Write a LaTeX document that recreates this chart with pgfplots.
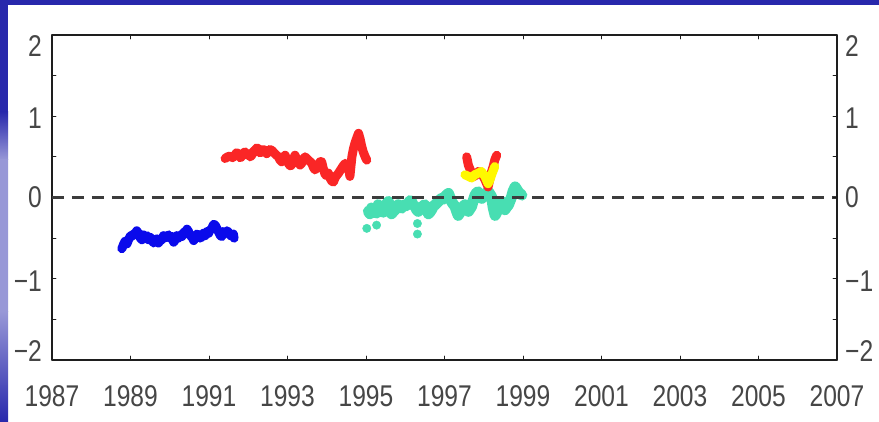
\documentclass[border=0pt]{standalone}
\usepackage{fontspec}
\usepackage{pgfplots}
\pgfplotsset{compat=1.18}
\setmainfont{Liberation Sans}
\newfontfamily\tickfont[FakeStretch=0.82]{Liberation Sans}
\definecolor{barblue}{RGB}{40,40,172}
\definecolor{stripmid}{RGB}{152,152,215}
\definecolor{stripmid2}{RGB}{128,128,205}
\definecolor{serblue}{RGB}{10,10,235}
\definecolor{serred}{RGB}{250,38,38}
\definecolor{serteal}{RGB}{72,222,178}
\definecolor{seryellow}{RGB}{255,248,0}
\definecolor{labgray}{RGB}{70,70,70}
\definecolor{axgray}{RGB}{30,30,30}
\definecolor{dashgray}{RGB}{60,60,60}
\newcommand\yl[2]{\raisebox{#1}[\height][\depth]{#2}}
\newcommand\ylabs{\ifcase\ticknum \yl{9pt}{−2}\or \yl{-2pt}{−1}\or \yl{0pt}{0}\or \yl{-2pt}{1}\or \yl{-11.5pt}{2}\fi}
\begin{document}
\begin{tikzpicture}
\useasboundingbox (0pt,0pt) rectangle (879pt,422pt);
\fill[white] (0pt,0pt) rectangle (879pt,422pt);
\fill[barblue] (0pt,310pt) rectangle (8pt,422pt);
\shade[top color=barblue, bottom color=stripmid] (0pt,262pt) rectangle (8pt,310.5pt);
\shade[top color=stripmid, middle color=stripmid2, bottom color=stripmid] (0pt,110pt) rectangle (8pt,262.5pt);
\shade[top color=stripmid, bottom color=barblue] (0pt,0pt) rectangle (8pt,110.5pt);
\fill[barblue] (0pt,417pt) rectangle (879pt,422pt);
\pgfplotsset{
  base/.style={
    at={(52pt,62pt)}, anchor=south west, scale only axis,
    width=785pt, height=325pt,
    xmin=1987, xmax=2007, ymin=-2, ymax=2,
    ytick={-2,-1,0,1,2}, minor y tick num=1,
    tick align=inside, major tick length=4pt, minor tick length=4pt,
    every tick/.style={axgray, line width=0.9pt},
    axis line style={axgray, line width=1.2pt},
    tick label style={font=\tickfont\fontsize{30}{30}\selectfont, text=labgray, inner sep=0pt},
    yticklabel={\ylabs},
  }
}
\begin{axis}[base,
  xtick={1987,1989,...,2007}, minor x tick num=1,
  xticklabels={1987,1989,1991,1993,1995,1997,1999,2001,2003,2005,2007},
  xtick pos=both, ytick pos=both,
  xticklabel pos=bottom, yticklabel pos=left,
  xticklabel style={yshift=-25pt},
  yticklabel style={xshift=-10pt},
  line join=round, line cap=round,
]
% blue series
\addplot[serblue, line width=9pt] coordinates {
(1988.78,-0.63) (1988.82,-0.58) (1988.86,-0.54) (1988.91,-0.57) (1988.95,-0.52) (1989.00,-0.47)
(1989.03,-0.48) (1989.08,-0.45) (1989.12,-0.44) (1989.16,-0.41) (1989.20,-0.44) (1989.25,-0.50)
(1989.29,-0.52) (1989.33,-0.46) (1989.37,-0.48) (1989.42,-0.47) (1989.46,-0.52) (1989.50,-0.49)
(1989.54,-0.52) (1989.59,-0.56) (1989.63,-0.54) (1989.67,-0.51) (1989.71,-0.56) (1989.76,-0.53)
(1989.80,-0.52) (1989.84,-0.47) (1989.88,-0.50) (1989.92,-0.48) (1989.97,-0.46) (1990.01,-0.50)
(1990.05,-0.48) (1990.10,-0.55) (1990.14,-0.52) (1990.18,-0.47) (1990.22,-0.50) (1990.27,-0.46)
(1990.31,-0.48) (1990.35,-0.43) (1990.39,-0.44) (1990.44,-0.39) (1990.48,-0.42) (1990.52,-0.47)
(1990.56,-0.48) (1990.61,-0.53) (1990.65,-0.50) (1990.69,-0.45) (1990.73,-0.46) (1990.78,-0.50)
(1990.82,-0.48) (1990.86,-0.44) (1990.90,-0.47) (1990.95,-0.42) (1990.99,-0.44) (1991.03,-0.40)
(1991.07,-0.38) (1991.12,-0.33) (1991.16,-0.34) (1991.20,-0.38) (1991.24,-0.42) (1991.29,-0.47)
(1991.33,-0.48) (1991.37,-0.42) (1991.41,-0.44) (1991.46,-0.41) (1991.50,-0.43) (1991.54,-0.46)
(1991.58,-0.48) (1991.62,-0.45) (1991.64,-0.50)
};
% red series 1
\addplot[serred, line width=9pt] coordinates {
(1991.41,0.48) (1991.47,0.50) (1991.54,0.51) (1991.60,0.49) (1991.66,0.52) (1991.70,0.55)
(1991.75,0.54) (1991.79,0.49) (1991.83,0.50) (1991.88,0.55) (1991.92,0.56) (1991.96,0.53)
(1992.00,0.54) (1992.05,0.50) (1992.09,0.52) (1992.13,0.57) (1992.17,0.56) (1992.21,0.61)
(1992.26,0.60) (1992.30,0.55) (1992.34,0.56) (1992.38,0.59) (1992.43,0.58) (1992.47,0.54)
(1992.51,0.56) (1992.55,0.59) (1992.60,0.58) (1992.64,0.56) (1992.68,0.54) (1992.72,0.52)
(1992.77,0.50) (1992.81,0.46) (1992.85,0.44) (1992.90,0.49) (1992.94,0.52) (1992.98,0.46)
(1993.02,0.42) (1993.07,0.39) (1993.11,0.40) (1993.15,0.47) (1993.19,0.52) (1993.23,0.48)
(1993.28,0.44) (1993.32,0.40) (1993.36,0.42) (1993.40,0.47) (1993.45,0.50) (1993.49,0.48)
(1993.53,0.46) (1993.58,0.44) (1993.62,0.42) (1993.66,0.37) (1993.70,0.34) (1993.74,0.36)
(1993.79,0.40) (1993.83,0.44) (1993.87,0.44) (1993.91,0.36) (1993.96,0.28) (1994.00,0.27)
(1994.04,0.30) (1994.08,0.24) (1994.13,0.20) (1994.17,0.19) (1994.21,0.24) (1994.25,0.27)
(1994.30,0.30) (1994.34,0.33) (1994.38,0.36) (1994.42,0.39) (1994.47,0.42) (1994.51,0.40)
(1994.55,0.38) (1994.59,0.26) (1994.64,0.50) (1994.68,0.60) (1994.72,0.67) (1994.77,0.74)
(1994.81,0.79) (1994.85,0.72) (1994.89,0.63) (1994.93,0.56) (1994.98,0.50) (1995.02,0.46)
};
% teal series
\addplot[serteal, line width=11pt] coordinates {
(1995.06,-0.17) (1995.10,-0.20) (1995.14,-0.13) (1995.18,-0.17) (1995.23,-0.15) (1995.27,-0.19)
(1995.31,-0.09) (1995.35,-0.12) (1995.40,-0.13) (1995.44,-0.18) (1995.48,-0.11) (1995.52,-0.08)
(1995.57,-0.05) (1995.61,-0.14) (1995.65,-0.20) (1995.70,-0.17) (1995.74,-0.15) (1995.78,-0.11)
(1995.82,-0.09) (1995.86,-0.12) (1995.91,-0.13) (1995.95,-0.10) (1995.99,-0.09) (1996.03,-0.10)
(1996.08,-0.07) (1996.12,-0.04) (1996.16,-0.05) (1996.20,-0.09) (1996.25,-0.11) (1996.29,-0.15)
(1996.33,-0.17) (1996.37,-0.14) (1996.42,-0.13) (1996.46,-0.10) (1996.50,-0.09) (1996.55,-0.14)
(1996.59,-0.20) (1996.63,-0.18) (1996.67,-0.15) (1996.71,-0.11) (1996.76,-0.09) (1996.80,-0.07)
(1996.84,-0.05) (1996.88,-0.03) (1996.93,-0.01) (1996.97,-0.02) (1997.01,0.01) (1997.05,0.03)
(1997.10,0.05) (1997.14,0.00) (1997.18,-0.05) (1997.22,-0.08) (1997.27,-0.11) (1997.31,-0.17)
(1997.35,-0.22) (1997.39,-0.19) (1997.44,-0.15) (1997.48,-0.11) (1997.52,-0.09) (1997.56,-0.13)
(1997.61,-0.17) (1997.65,-0.14) (1997.69,-0.11) (1997.73,-0.04) (1997.78,0.03) (1997.82,0.06)
(1997.86,0.07) (1997.90,0.03) (1997.95,-0.01) (1997.99,0.01) (1998.03,0.03) (1998.07,0.06)
(1998.12,0.07) (1998.16,0.04) (1998.20,0.01) (1998.24,-0.12) (1998.29,-0.22) (1998.33,-0.18)
(1998.37,-0.13) (1998.41,-0.09) (1998.46,-0.05) (1998.50,-0.10) (1998.54,-0.15) (1998.58,-0.12)
(1998.63,-0.09) (1998.67,-0.04) (1998.71,0.01) (1998.75,0.08) (1998.80,0.13) (1998.84,0.10)
(1998.88,0.07) (1998.92,0.05) (1998.97,0.03)
};
\addplot[only marks, mark=*, mark size=4.2pt, serteal] coordinates {
(1995.02,-0.38) (1995.27,-0.34) (1996.31,-0.32) (1996.31,-0.45)
};
% zero line
\addplot[dashgray, line width=2.2pt, dash pattern=on 12pt off 8pt, line cap=butt] coordinates {(1987,0) (2007,0)};
% red series 2
\addplot[serred, line width=9pt] coordinates {
(1997.565,0.50) (1997.607,0.40) (1997.69,0.30) (1997.77,0.26) (1997.86,0.32) (1997.94,0.30)
(1998.03,0.22) (1998.11,0.13) (1998.20,0.32) (1998.24,0.38) (1998.28,0.46) (1998.33,0.52)
};
% yellow series
\addplot[seryellow, line width=9pt] coordinates {
(1997.52,0.28) (1997.61,0.26) (1997.69,0.24) (1997.77,0.28) (1997.86,0.30) (1997.94,0.32)
(1998.03,0.26) (1998.11,0.17) (1998.16,0.22) (1998.20,0.28) (1998.28,0.38)
};
\end{axis}
\begin{axis}[base,
  axis x line=none, axis y line*=right,
  yticklabel pos=right,
  yticklabel style={anchor=west, xshift=8pt},
]
\end{axis}
\end{tikzpicture}
\end{document}
